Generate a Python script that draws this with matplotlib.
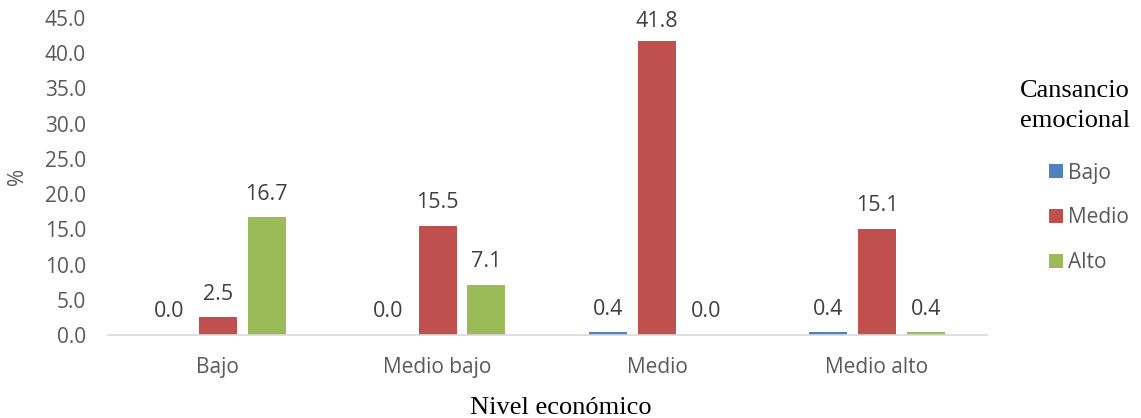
import numpy as np
import matplotlib
matplotlib.use('Agg')
import matplotlib.pyplot as plt

# Data.
categories = ['Bajo', 'Medio bajo', 'Medio', 'Medio alto']
bajo = [0.0, 0.0, 0.4, 0.4]
medio = [2.5, 15.5, 41.8, 15.1]
alto = [16.7, 7.1, 0.0, 0.4]
series_names = ['Bajo', 'Medio', 'Alto']
colors = ['#4F81BD', '#C0504D', '#9BBB59']

sans = 'Open Sans'
serif = 'Liberation Serif'
tick_color = '#595959'

fig = plt.figure(figsize=(11.41, 4.18), dpi=100)
ax = fig.add_axes([0.0947, 0.1986, 0.7700, 0.7584])

x = np.arange(len(categories))
width = 0.173
step = 0.223
for i, (vals, name, col) in enumerate(zip([bajo, medio, alto], series_names, colors)):
    pos = x + (i - 1) * step
    ax.bar(pos, vals, width, color=col, label=name)
    # Value labels above each bar (kept inside the plot area, like Excel).
    for xp, v in zip(pos, vals):
        ax.text(xp, min(v + 2.5, 43.7), '%.1f' % v, ha='center', va='baseline',
                fontsize=15.5, family=sans, color='#404040')

ax.set_xlim(-0.5, 3.5)
ax.set_ylim(0, 45)
ax.set_yticks(np.arange(0, 46, 5))
ax.set_yticklabels(['%.1f' % t for t in np.arange(0, 46, 5)],
                   family=sans, fontsize=15, color=tick_color)
ax.set_xticks(x)
ax.set_xticklabels(categories, family=sans, fontsize=15, color=tick_color)
ax.tick_params(axis='both', length=0)
ax.tick_params(axis='x', pad=16)
ax.tick_params(axis='y', pad=16)

for s in ['top', 'right', 'left']:
    ax.spines[s].set_visible(False)
ax.spines['bottom'].set_color('#D9D9D9')
ax.spines['bottom'].set_linewidth(1.2)

ax.set_ylabel('%', family=sans, fontsize=15, color=tick_color, labelpad=12)
ax.set_xlabel('Nivel económico', family=serif, fontsize=19, color='black', labelpad=14)
ax.xaxis.set_label_coords(0.515, -0.195)

# Legend title drawn on its own, entries as a plain legend.
fig.text(1130 / 1141, 1 - 106 / 418, 'Cansancio\nemocional', ha='right', va='center',
         multialignment='right', family=serif, fontsize=19, linespacing=1.42)
leg = ax.legend(loc='center left', bbox_to_anchor=(1049 / 1141, 1 - 218 / 418),
                bbox_transform=fig.transFigure, frameon=False,
                prop={'family': sans, 'size': 15}, borderpad=0, borderaxespad=0,
                handlelength=0.67, handleheight=0.67, handletextpad=0.25,
                labelspacing=1.15, labelcolor=tick_color)

fig.savefig('out.png', dpi=100)
